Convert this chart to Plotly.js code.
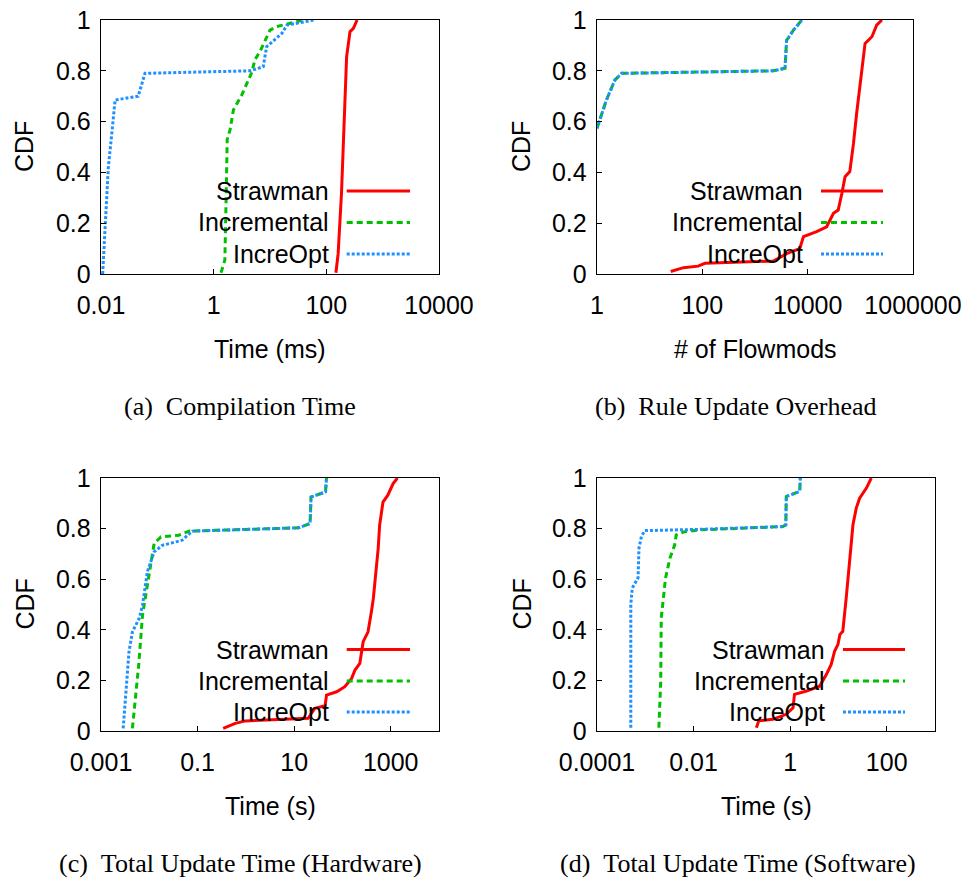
<!DOCTYPE html>
<html>
<head>
<meta charset="utf-8">
<script src="https://cdn.plot.ly/plotly-3.0.1.min.js"></script>
<style>
  html, body { margin: 0; padding: 0; background: #fff; }
  #chart { width: 969px; height: 879px; }
</style>
</head>
<body>
<div id="chart"></div>
<script>
// ---- (a) Compilation time, ms ----
const aStrawmanX = [148, 162, 186, 214, 229, 263, 302, 347, 355];
const aStrawmanY = [0.005, 0.08, 0.32, 0.685, 0.855, 0.954, 0.967, 0.997, 1.0];
const aIncrementalX = [1.35, 1.58, 1.66, 1.74, 1.95, 2.24, 3.16, 3.89, 4.79, 5.37, 6.61, 10.0, 13.2, 22.9, 39.8];
const aIncrementalY = [0.005, 0.055, 0.29, 0.53, 0.567, 0.646, 0.705, 0.75, 0.796, 0.843, 0.875, 0.96, 0.974, 0.987, 1.0];
const aIncreOptX = [0.0107, 0.0117, 0.0135, 0.0155, 0.0178, 0.0457, 0.0603, 4.47, 7.59, 8.71, 16.2, 20.0, 58.9, 60.3];
const aIncreOptY = [0, 0.16, 0.42, 0.55, 0.685, 0.70, 0.79, 0.80, 0.816, 0.895, 0.947, 0.98, 0.997, 1.0];

// ---- (b) Rule update overhead, # of flowmods ----
const bStrawmanX = [25.1, 43.7, 83.2, 112, 2239, 3981, 7079, 8318, 14791, 22909, 30903, 38019, 44668, 51286, 63096, 74131, 85114, 107152, 123027, 165959, 204174, 257040];
const bStrawmanY = [0.01, 0.025, 0.031, 0.042, 0.051, 0.08, 0.10, 0.147, 0.167, 0.186, 0.239, 0.252, 0.318, 0.383, 0.403, 0.514, 0.633, 0.816, 0.908, 0.934, 0.98, 1.0];
const bIncrementalX = [1.0, 1.51, 2.19, 2.95, 2239, 3715, 3981, 5370, 7762];
const bIncrementalY = [0.574, 0.685, 0.764, 0.79, 0.80, 0.81, 0.92, 0.96, 1.0];
const bIncreOptX = [1.0, 1.51, 2.19, 2.95, 2239, 3715, 3981, 5370, 7762];
const bIncreOptY = [0.574, 0.685, 0.764, 0.79, 0.80, 0.81, 0.92, 0.96, 1.0];

// ---- (c) Total update time on hardware switches, s ----
const cStrawmanX = [0.339, 0.603, 0.977, 19.5, 26.9, 43.7, 46.8, 75.9, 112, 155, 182, 229, 269, 339, 398, 437, 479, 550, 589, 692, 871, 1122, 1380];
const cStrawmanY = [0.01, 0.03, 0.04, 0.05, 0.09, 0.10, 0.142, 0.155, 0.175, 0.208, 0.241, 0.267, 0.353, 0.392, 0.471, 0.524, 0.603, 0.721, 0.813, 0.905, 0.932, 0.978, 1.0];
const cIncrementalX = [0.00447, 0.00525, 0.00603, 0.00724, 0.00912, 0.0107, 0.0126, 0.0174, 0.0407, 0.0661, 12.3, 21.4, 22.4, 44.7, 46.8];
const cIncrementalY = [0.01, 0.155, 0.26, 0.458, 0.576, 0.642, 0.741, 0.767, 0.774, 0.79, 0.803, 0.82, 0.925, 0.945, 1.0];
const cIncreOptX = [0.00288, 0.00331, 0.00380, 0.00447, 0.00617, 0.00724, 0.00912, 0.0126, 0.0186, 0.0479, 0.0776, 12.3, 21.4, 22.4, 44.7, 46.8];
const cIncreOptY = [0.01, 0.155, 0.313, 0.392, 0.445, 0.497, 0.629, 0.708, 0.734, 0.754, 0.79, 0.803, 0.82, 0.925, 0.945, 1.0];

// ---- (d) Total update time on software switches, s ----
const dStrawmanX = [0.200, 0.224, 0.437, 0.832, 1.15, 1.23, 2.19, 4.07, 5.62, 7.08, 8.32, 9.77, 10.7, 12.3, 14.5, 17.0, 20.0, 23.4, 27.5, 38.0, 47.9];
const dStrawmanY = [0.013, 0.04, 0.046, 0.066, 0.092, 0.145, 0.158, 0.177, 0.223, 0.263, 0.315, 0.342, 0.381, 0.394, 0.526, 0.657, 0.815, 0.881, 0.92, 0.96, 1.0];
const dIncrementalX = [0.00191, 0.00209, 0.00214, 0.00234, 0.00263, 0.00324, 0.00407, 0.00437, 0.00661, 0.0135, 0.708, 0.813, 0.832, 1.58, 1.62, 1.62];
const dIncrementalY = [0.013, 0.197, 0.447, 0.526, 0.605, 0.683, 0.736, 0.775, 0.788, 0.795, 0.808, 0.815, 0.927, 0.947, 0.993, 1.0];
const dIncreOptX = [0.000501, 0.000501, 0.000537, 0.000708, 0.000741, 0.000832, 0.000977, 0.00708, 0.0135, 0.708, 0.813, 0.832, 1.58, 1.62, 1.62];
const dIncreOptY = [0.013, 0.5, 0.565, 0.605, 0.723, 0.769, 0.792, 0.795, 0.797, 0.808, 0.815, 0.927, 0.947, 0.993, 1.0];

// ---- tick labels ----
const aTickVals = [0.01, 1, 100, 10000];
const aTickText = ['0.01', '1', '100', '10000'];
const bTickVals = [1, 100, 10000, 1000000];
const bTickText = ['1', '100', '10000', '1000000'];
const cTickVals = [0.001, 0.1, 10, 1000];
const cTickText = ['0.001', '0.1', '10', '1000'];
const dTickVals = [0.0001, 0.01, 1, 100];
const dTickText = ['0.0001', '0.01', '1', '100'];
const cdfTickVals = [0, 0.2, 0.4, 0.6, 0.8, 1];
const cdfTickText = ['0', '0.2', '0.4', '0.6', '0.8', '1'];

const seriesNames = ['Strawman', 'Incremental', 'IncreOpt'];
const xTitles = ['Time (ms)', '# of Flowmods', 'Time (s)', 'Time (s)'];
const captions = ['(a)  Compilation Time', '(b)  Rule Update Overhead',
                  '(c)  Total Update Time (Hardware)', '(d)  Total Update Time (Software)'];

// ---- styling ----
const W = 969, H = 879;
const SANS = 'Liberation Sans, Arial, Helvetica, sans-serif';
const SERIF = 'Liberation Serif, Times New Roman, serif';
const styles = [
  { color: '#ff0000', width: 3, dash: 'solid' },
  { color: '#00c000', width: 3, dash: '6px,4px' },
  { color: '#1e90ff', width: 3, dash: '3px,2px' }
];
const fx = p => p / W;
const fy = p => 1 - p / H;

// plot boxes in pixels: left, right, top, bottom
const boxes = [
  { l: 101, r: 439, t: 20, b: 274 },
  { l: 597, r: 913, t: 20, b: 274 },
  { l: 101, r: 439, t: 478, b: 731 },
  { l: 597, r: 935, t: 478, b: 731 }
];
const xRanges = [[-2, 4], [0, 6], [-3, 4], [-4, 3]];
const tickSets = [[aTickVals, aTickText], [bTickVals, bTickText], [cTickVals, cTickText], [dTickVals, dTickText]];
const panelData = [
  [[aStrawmanX, aStrawmanY], [aIncrementalX, aIncrementalY], [aIncreOptX, aIncreOptY]],
  [[bStrawmanX, bStrawmanY], [bIncrementalX, bIncrementalY], [bIncreOptX, bIncreOptY]],
  [[cStrawmanX, cStrawmanY], [cIncrementalX, cIncrementalY], [cIncreOptX, cIncreOptY]],
  [[dStrawmanX, dStrawmanY], [dIncrementalX, dIncrementalY], [dIncreOptX, dIncreOptY]]
];
// key placement per panel: right end of text, sample start/end, row centres (px)
const keys = [
  { textR: 331, s0: 346.7, s1: 410, rows: [191, 222.5, 254] },
  { textR: 805, s0: 821, s1: 883, rows: [191, 222.5, 254] },
  { textR: 331, s0: 346.7, s1: 410, rows: [649.5, 681, 712] },
  { textR: 827, s0: 843, s1: 905, rows: [649.5, 681, 712] }
];
const captionX = [240, 736, 240, 738];
const cdfX = [24, 521, 24, 521];

const traces = [];
const layout = {
  width: W, height: H,
  margin: { l: 0, r: 0, t: 0, b: 0 },
  paper_bgcolor: '#fff', plot_bgcolor: '#fff',
  showlegend: false,
  font: { family: SANS, size: 25, color: '#000' },
  annotations: [], shapes: []
};

for (let i = 0; i < 4; i++) {
  const k = i === 0 ? '' : String(i + 1);
  const box = boxes[i];
  panelData[i].forEach((d, s) => {
    traces.push({
      type: 'scatter', mode: 'lines', name: seriesNames[s],
      x: d[0], y: d[1], xaxis: 'x' + k, yaxis: 'y' + k,
      line: { color: styles[s].color, width: styles[s].width, dash: styles[s].dash },
      hoverinfo: 'skip'
    });
  });
  const common = {
    showline: true, mirror: true, linecolor: '#000', linewidth: 1.3,
    ticks: 'inside', ticklen: 5, tickwidth: 1, tickcolor: '#000',
    showgrid: false, zeroline: false, fixedrange: true,
    tickfont: { family: SANS, size: 25, color: '#000' }
  };
  layout['xaxis' + k] = Object.assign({}, common, {
    type: 'log', range: xRanges[i], anchor: 'y' + k,
    domain: [fx(box.l), fx(box.r)],
    tickmode: 'array', tickvals: tickSets[i][0], ticktext: tickSets[i][1],
    ticklabelstandoff: 9
  });
  layout['yaxis' + k] = Object.assign({}, common, {
    range: [0, 1], anchor: 'x' + k,
    domain: [fy(box.b), fy(box.t)],
    tickmode: 'array', tickvals: cdfTickVals, ticktext: cdfTickText,
    ticklabelstandoff: 4
  });

  // axis titles
  layout.annotations.push({
    xref: 'paper', yref: 'paper', x: fx((box.l + box.r) / 2), y: fy(box.b + 75),
    text: xTitles[i], showarrow: false, xanchor: 'center', yanchor: 'middle',
    font: { family: SANS, size: 25, color: '#000' }
  });
  layout.annotations.push({
    xref: 'paper', yref: 'paper', x: fx(cdfX[i]), y: fy((box.t + box.b) / 2),
    text: 'CDF', textangle: -90, showarrow: false, xanchor: 'center', yanchor: 'middle',
    font: { family: SANS, size: 25, color: '#000' }
  });
  // caption
  layout.annotations.push({
    xref: 'paper', yref: 'paper', x: fx(captionX[i]), y: fy(box.b + 132),
    text: captions[i].replace(/  /g, '&nbsp;&nbsp;'), showarrow: false, xanchor: 'center', yanchor: 'middle',
    font: { family: SERIF, size: 26, color: '#000' }
  });
  // key: label on the left, line sample on the right
  const key = keys[i];
  seriesNames.forEach((name, s) => {
    layout.annotations.push({
      xref: 'paper', yref: 'paper', x: fx(key.textR), y: fy(key.rows[s]),
      text: name, showarrow: false, xanchor: 'right', yanchor: 'middle',
      font: { family: SANS, size: 25, color: '#000' }
    });
    layout.shapes.push({
      type: 'line', xref: 'paper', yref: 'paper',
      x0: fx(key.s0), x1: fx(key.s1), y0: fy(key.rows[s]), y1: fy(key.rows[s]),
      line: { color: styles[s].color, width: styles[s].width, dash: styles[s].dash }
    });
  });
}

Plotly.newPlot('chart', traces, layout, { staticPlot: true, displayModeBar: false });
</script>
</body>
</html>
